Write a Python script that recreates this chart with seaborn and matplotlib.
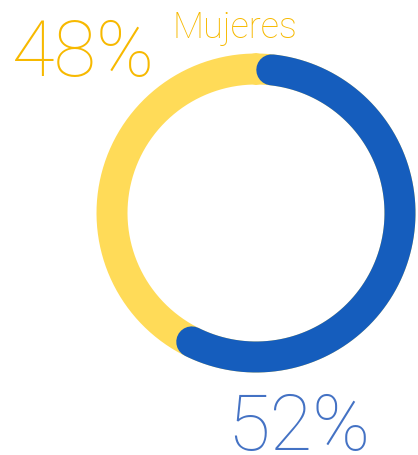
import numpy as np
import pandas as pd
import seaborn as sns
import matplotlib.pyplot as plt

# shares shown on the chart
labels = ["Hombres", "Mujeres"]
shares = [52, 48]
share_text = ["52%", "48%"]
ring_colors = ["#155DBD", "#FFDB58"]
text_colors = ["#4472C4", "#F7B900"]

# visible arc of the blue part (degrees clockwise from the top, cap centres)
blue_start = 6.3
blue_end = 206.5


def arc_frame(start, end, cx=256, cy=213, r=144, n=300):
    theta = np.radians(np.linspace(start, end, n))
    return pd.DataFrame({"x": cx + r * np.sin(theta), "y": cy - r * np.cos(theta)})


def main():
    sns.set_style("white")
    plt.rcParams["font.family"] = ["Roboto", "DejaVu Sans"]

    fig = plt.figure(figsize=(4.18, 4.55), dpi=100)
    ax = fig.add_axes([0, 0, 1, 1])
    ax.set_xlim(0, 418)
    ax.set_ylim(455, 0)
    ax.set_aspect("equal")
    ax.axis("off")

    lw = 31 * 72 / 100

    # yellow full ring underneath, blue arc on top
    sns.lineplot(data=arc_frame(0, 360), x="x", y="y", sort=False, ax=ax,
                 color=ring_colors[1], linewidth=lw, estimator=None)
    sns.lineplot(data=arc_frame(blue_start, blue_end), x="x", y="y", sort=False, ax=ax,
                 color=ring_colors[0], linewidth=lw, estimator=None,
                 solid_capstyle="round")

    ax.text(12, 76, share_text[1], color=text_colors[1], fontsize=56,
            fontweight="light", va="baseline", ha="left")
    ax.text(172, 38, labels[1], color=text_colors[1], fontsize=26,
            fontweight="light", va="baseline", ha="left")
    ax.text(227, 450, share_text[0], color=text_colors[0], fontsize=56,
            fontweight="light", va="baseline", ha="left")

    ax.set_xlabel("")
    ax.set_ylabel("")
    fig.savefig("out.png", dpi=100)


if __name__ == "__main__":
    main()
